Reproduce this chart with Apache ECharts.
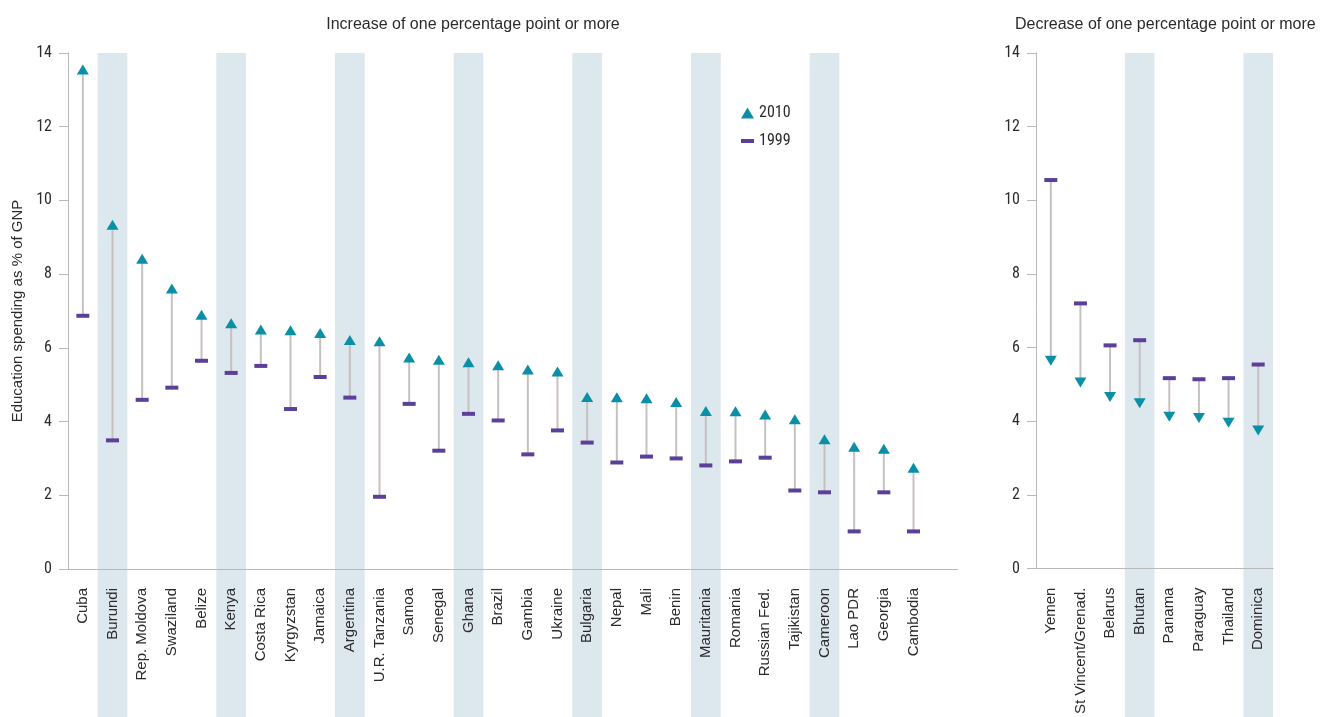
<!DOCTYPE html>
<html>
<head>
<meta charset="utf-8">
<script src="https://cdn.jsdelivr.net/npm/echarts@6/dist/echarts.min.js"></script>
<style>
html,body{margin:0;padding:0;background:#fff;}
#chart{width:1332px;height:717px;}
</style>
</head>
<body>
<div id="chart"></div>
<script>
// ---- data ----
var categoriesIncrease = ['Cuba','Burundi','Rep. Moldova','Swaziland','Belize','Kenya','Costa Rica','Kyrgyzstan','Jamaica','Argentina','U.R. Tanzania','Samoa','Senegal','Ghana','Brazil','Gambia','Ukraine','Bulgaria','Nepal','Mali','Benin','Mauritania','Romania','Russian Fed.','Tajikistan','Cameroon','Lao PDR','Georgia','Cambodia'];
var increase2010 = [13.55, 9.34, 8.42, 7.61, 6.90, 6.67, 6.50, 6.48, 6.40, 6.21, 6.18, 5.74, 5.68, 5.61, 5.53, 5.41, 5.36, 4.67, 4.66, 4.63, 4.53, 4.29, 4.28, 4.19, 4.06, 3.52, 3.32, 3.26, 2.75];
var increase1999 = [6.87, 3.49, 4.59, 4.92, 5.65, 5.32, 5.51, 4.34, 5.21, 4.65, 1.96, 4.48, 3.21, 4.21, 4.03, 3.11, 3.76, 3.43, 2.89, 3.05, 3.00, 2.81, 2.92, 3.02, 2.13, 2.08, 1.02, 2.08, 1.02];
var shadedIncrease = ['Burundi','Kenya','Argentina','Ghana','Bulgaria','Mauritania','Cameroon'];

var categoriesDecrease = ['Yemen','St Vincent/Grenad.','Belarus','Bhutan','Panama','Paraguay','Thailand','Dominica'];
var decrease1999 = [10.55, 7.20, 6.06, 6.20, 5.17, 5.14, 5.17, 5.54];
var decrease2010 = [5.64, 5.05, 4.66, 4.49, 4.12, 4.09, 3.96, 3.75];
var shadedDecrease = ['Bhutan','Dominica'];

var yTicks = [0, 2, 4, 6, 8, 10, 12, 14];
var titleIncrease = 'Increase of one percentage point or more';
var titleDecrease = 'Decrease of one percentage point or more';
var yAxisTitle = 'Education spending as % of GNP';

// ---- styles ----
var condensed = "'Liberation Sans Narrow','Roboto Condensed','Liberation Sans',Arial,sans-serif";
var regular = "'Liberation Sans',Arial,sans-serif";
var teal = '#0a8fa6';
var purple = '#5b3f99';
var segColor = '#c6c1bf';
var bandColor = '#dde7ee';
var axisColor = '#b9b9b9';
var textColor = '#2b2b2b';
var yMax = yTicks[yTicks.length - 1];

var chart = echarts.init(document.getElementById('chart'), null, {renderer: 'canvas'});

function bandSeries(axisIdx, cats, shaded) {
  return {
    type: 'custom', xAxisIndex: axisIdx, yAxisIndex: axisIdx, z: 1, silent: true,
    data: shaded.map(function (n) { return [cats.indexOf(n)]; }),
    renderItem: function (params, api) {
      var top = api.coord([api.value(0), yMax]);
      var w = api.size([1, 0])[0];
      return {type: 'rect', shape: {x: top[0] - w / 2, y: top[1], width: w, height: api.getHeight() - top[1]},
              style: {fill: bandColor}};
    }
  };
}
function segSeries(axisIdx, a, b) {
  return {
    type: 'custom', xAxisIndex: axisIdx, yAxisIndex: axisIdx, z: 2, silent: true,
    data: a.map(function (v, i) { return [i, v, b[i]]; }),
    renderItem: function (params, api) {
      var p1 = api.coord([api.value(0), api.value(1)]);
      var p2 = api.coord([api.value(0), api.value(2)]);
      return {type: 'line', shape: {x1: p1[0], y1: p1[1], x2: p2[0], y2: p2[1]},
              style: {stroke: segColor, lineWidth: 2}};
    }
  };
}
function xAxis(idx, cats) {
  return {
    type: 'category', gridIndex: idx, data: cats, z: 5,
    axisLine: {show: true, lineStyle: {color: axisColor, width: 1}},
    axisTick: {show: false},
    axisLabel: {rotate: 90, interval: 0, margin: 19, fontFamily: regular, fontSize: 15, color: textColor}
  };
}
function yAxis(idx, named) {
  var ax = {
    type: 'value', gridIndex: idx, min: yTicks[0], max: yMax, interval: yTicks[1] - yTicks[0], z: 5,
    axisLine: {show: true, lineStyle: {color: axisColor, width: 1}},
    axisTick: {show: true, length: 9, lineStyle: {color: axisColor}},
    axisLabel: {margin: 16, fontFamily: condensed, fontSize: 16, color: textColor},
    splitLine: {show: false}
  };
  if (named) {
    ax.name = yAxisTitle; ax.nameLocation = 'middle'; ax.nameGap = 43;
    ax.nameTextStyle = {fontFamily: regular, fontSize: 15, color: textColor};
  }
  return ax;
}

var option = {
  animation: false,
  title: [
    {text: titleIncrease, left: 468, top: 12, textAlign: 'center',
     textStyle: {fontFamily: regular, fontSize: 16, fontWeight: 'normal', color: textColor}},
    {text: titleDecrease, left: 1010, top: 12,
     textStyle: {fontFamily: regular, fontSize: 16, fontWeight: 'normal', color: textColor}}
  ],
  legend: {
    data: [{name: '2010', icon: 'triangle'}, {name: '1999', icon: 'path://M0,0h13v4h-13z'}],
    orient: 'vertical', left: 736, top: 100, itemWidth: 13, itemHeight: 11, itemGap: 12,
    textStyle: {fontFamily: condensed, fontSize: 16, color: textColor}, selectedMode: false
  },
  grid: [
    {left: 68, top: 53, width: 890, bottom: 148},
    {left: 1036, top: 53, width: 237, bottom: 148}
  ],
  xAxis: [xAxis(0, categoriesIncrease.concat([''])), xAxis(1, categoriesDecrease)],
  yAxis: [yAxis(0, true), yAxis(1, false)],
  series: [
    bandSeries(0, categoriesIncrease, shadedIncrease),
    bandSeries(1, categoriesDecrease, shadedDecrease),
    segSeries(0, increase1999, increase2010),
    segSeries(1, decrease1999, decrease2010),
    {name: '2010', type: 'scatter', xAxisIndex: 0, yAxisIndex: 0, z: 3, data: increase2010,
     symbol: 'triangle', symbolSize: [12, 10], itemStyle: {color: teal, opacity: 1}},
    {name: '1999', type: 'scatter', xAxisIndex: 0, yAxisIndex: 0, z: 3, data: increase1999,
     symbol: 'rect', symbolSize: [13, 4], itemStyle: {color: purple, opacity: 1}},
    {name: '2010 ', type: 'scatter', xAxisIndex: 1, yAxisIndex: 1, z: 3, data: decrease2010,
     symbol: 'triangle', symbolRotate: 180, symbolSize: [12, 10], itemStyle: {color: teal, opacity: 1}},
    {name: '1999 ', type: 'scatter', xAxisIndex: 1, yAxisIndex: 1, z: 3, data: decrease1999,
     symbol: 'rect', symbolSize: [13, 4], itemStyle: {color: purple, opacity: 1}}
  ]
};
chart.setOption(option);
</script>
</body>
</html>
